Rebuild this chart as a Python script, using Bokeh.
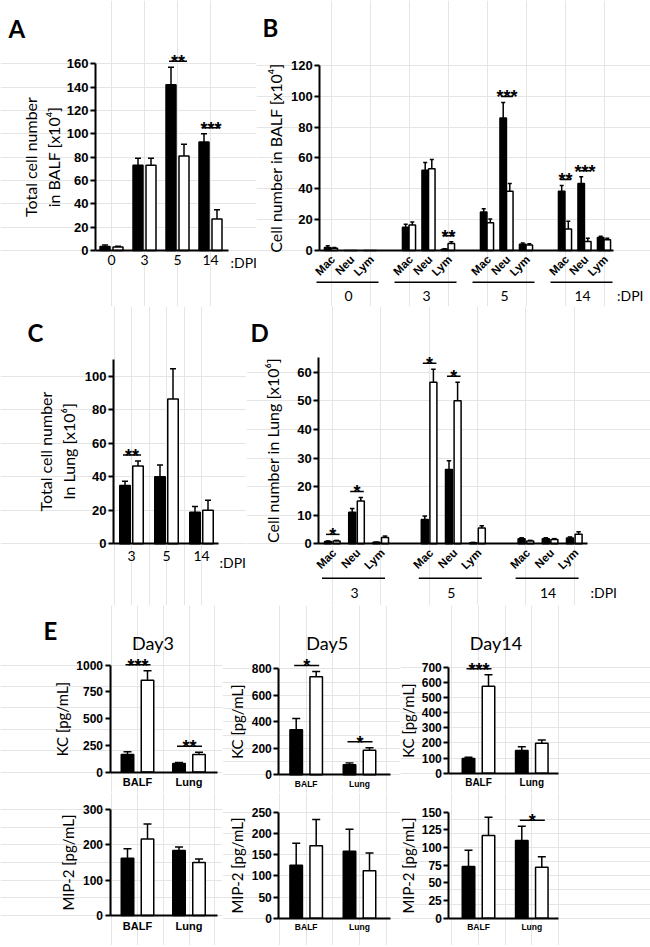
import math
from bokeh.plotting import figure
from bokeh.models import Range1d, LinearAxis, FixedTicker, Whisker, TeeHead, ColumnDataSource
from bokeh.layouts import row, column
from bokeh.core.properties import value
from bokeh.embed import file_html
from bokeh.resources import INLINE

# ---------------- data ----------------
# A: total cell number in BALF [x10^4]
a_days = ["0", "3", "5", "14"]
a_black = [3.5, 73, 142, 93]
a_black_err = [1.2, 6, 15, 7]
a_white = [3, 73, 81, 27]
a_white_err = [0.6, 6, 10, 8]
a_sig = [(2, "**"), (3, "***")]
a_yticks = [0, 20, 40, 60, 80, 100, 120, 140, 160]

# B: cell number in BALF [x10^4] by cell type
cell_types = ["Mac", "Neu", "Lym"]
b_days = ["0", "3", "5", "14"]
b_black = [[2, 0, 0], [15, 52, 0.8], [25, 86, 4], [38.5, 43.5, 8.5]]
b_black_err = [[1, 0, 0], [2, 5, 0.3], [2, 10, 0.8], [3.7, 4.3, 0.7]]
b_white = [[1.5, 0, 0], [16.5, 53, 4.6], [18, 38.5, 3.5], [14, 5.8, 6.9]]
b_white_err = [[0.5, 0, 0], [2, 6, 1], [2.5, 5, 0.8], [5, 2.2, 1.1]]
b_sig = [(1, 2, "**"), (2, 1, "***"), (3, 0, "**"), (3, 1, "***")]
b_yticks = [0, 20, 40, 60, 80, 100, 120]

# C: total cell number in lung [x10^6]
c_days = ["3", "5", "14"]
c_black = [34.8, 40, 18.9]
c_black_err = [2.6, 7, 3.4]
c_white = [46.5, 86.5, 20]
c_white_err = [3, 18, 6]
c_sig = [(0, "**")]
c_yticks = [0, 20, 40, 60, 80, 100]
c_ytop = 110

# D: cell number in lung [x10^6] by cell type
d_days = ["3", "5", "14"]
d_black = [[0.8, 11, 0.5], [8.5, 26, 0.4], [1.8, 1.8, 2.0]]
d_black_err = [[0.2, 1.3, 0.1], [1.2, 3, 0.1], [0.3, 0.3, 0.4]]
d_white = [[1.0, 15, 2.2], [56.5, 50, 5.5], [1.0, 1.5, 3.3]]
d_white_err = [[0.2, 1.2, 0.5], [4.5, 6.5, 0.8], [0.2, 0.3, 0.9]]
d_sig = [(0, 0, "*"), (0, 1, "*"), (1, 0, "*"), (1, 1, "*")]
d_yticks = [0, 10, 20, 30, 40, 50, 60]
d_ytop = 65

# E: cytokines [pg/mL]
e_sites = ["BALF", "Lung"]
e_days = ["Day3", "Day5", "Day14"]
kc_black = [[165, 80], [340, 75], [97, 150]]
kc_black_err = [[25, 8], [85, 15], [8, 25]]
kc_white = [[860, 165], [740, 185], [575, 197]]
kc_white_err = [[90, 20], [40, 20], [75, 22]]
kc_sig = [[(0, "***"), (1, "**")], [(0, "*"), (1, "*")], [(0, "***")]]
kc_yticks = [[0, 250, 500, 750, 1000], [0, 200, 400, 600, 800], [0, 100, 200, 300, 400, 500, 600, 700]]
mip_black = [[162, 184], [125, 158], [73, 110]]
mip_black_err = [[27, 10], [52, 52], [23, 20]]
mip_white = [[217, 150], [171, 112], [117, 72]]
mip_white_err = [[42, 10], [62, 42], [26, 15]]
mip_sig = [[], [], [(1, "*")]]
mip_yticks = [[0, 100, 200, 300], [0, 50, 100, 150, 200, 250], [0, 25, 50, 75, 100, 125, 150]]

TF = "Liberation Sans"
LF = "Lato"


class Panel:
    """A figure whose frame fills the whole canvas; xmap/ymap give page-pixel anchors."""

    def __init__(self, box, xmap, ymap):
        x0, y0, w, h = box
        self.px0, self.sx = xmap
        self.py0, self.sy = ymap
        self.p = figure(width=w, height=h,
                        x_range=Range1d(self.dx(x0), self.dx(x0 + w)),
                        y_range=Range1d(self.dy(y0 + h), self.dy(y0)),
                        min_border=0, toolbar_location=None, tools="",
                        output_backend="svg", x_axis_location=None, y_axis_location=None,
                        outline_line_color=None, background_fill_color="white",
                        border_fill_color="white")

    def dx(self, px):
        return (px - self.px0) / self.sx

    def dy(self, py):
        return (self.py0 - py) / self.sy

    def px(self, x):
        return self.px0 + self.sx * x

    def wx(self, n):
        return n / self.sx

    def wy(self, n):
        return n / self.sy

    def text(self, x, y, s, size, font=LF, bold=False, align="center", baseline="middle", angle=0.0):
        self.p.text(x=[x], y=[y], text=[s], text_font=value(font),
                    text_font_size=value(f"{size}px"),
                    text_font_style="bold" if bold else "normal",
                    text_align=align, text_baseline=baseline, text_color="black", angle=angle)

    def yaxis(self, ticks, axis_px, top, label, tick_size, label_size, standoff):
        ax = LinearAxis(fixed_location=self.dx(axis_px), bounds=(0, top),
                        ticker=FixedTicker(ticks=ticks),
                        axis_line_width=2, axis_line_color="black",
                        major_tick_line_width=2, major_tick_line_color="black",
                        major_tick_out=5, major_tick_in=0, minor_tick_line_color=None,
                        major_label_text_font=TF, major_label_text_font_style="bold",
                        major_label_text_font_size=f"{tick_size}px", major_label_text_color="black",
                        major_label_standoff=2,
                        axis_label=label, axis_label_text_font=LF,
                        axis_label_text_font_style="normal",
                        axis_label_text_font_size=f"{label_size}px",
                        axis_label_text_color="black", axis_label_standoff=standoff)
        self.p.add_layout(ax, "left")

    def xaxis(self, positions, labels, start_px, end_px, size, standoff, font=LF, bold=False):
        ax = LinearAxis(fixed_location=0, bounds=(self.dx(start_px), self.dx(end_px)),
                        ticker=FixedTicker(ticks=positions),
                        major_label_overrides={pos: lab for pos, lab in zip(positions, labels)},
                        axis_line_width=2, axis_line_color="black",
                        major_tick_line_color=None, major_tick_out=0, major_tick_in=0,
                        minor_tick_line_color=None,
                        major_label_text_font=font,
                        major_label_text_font_style="bold" if bold else "normal",
                        major_label_text_font_size=f"{size}px", major_label_text_color="black",
                        major_label_standoff=standoff)
        self.p.add_layout(ax, "below")

    def rotated_labels(self, positions, labels, axis_py, size):
        src = ColumnDataSource(dict(x=[p + self.wx(2) for p in positions],
                                    y=[self.dy(axis_py + 7)] * len(positions), t=labels))
        self.p.text(x="x", y="y", text="t", source=src, angle=math.pi / 4,
                    text_font=value(TF), text_font_style="bold",
                    text_font_size=value(f"{size}px"), text_align="right",
                    text_baseline="middle", text_color="black")

    def bars(self, centers, blk, blk_e, wht, wht_e, bw_px, off_px, cap_px):
        off = self.wx(off_px)
        for sign, vals, errs, col in ((-1, blk, blk_e, "black"), (1, wht, wht_e, "white")):
            xs = [c + sign * off for c in centers]
            src = ColumnDataSource(dict(x=xs, top=vals))
            self.p.vbar(x="x", top="top", bottom=0, width=self.wx(bw_px), source=src,
                        fill_color=col, line_color="black", line_width=1.5)
            keep = [i for i, e in enumerate(errs) if e > 0]
            esrc = ColumnDataSource(dict(x=[xs[i] for i in keep], top=[vals[i] for i in keep],
                                         upper=[vals[i] + errs[i] for i in keep]))
            self.p.add_layout(Whisker(source=esrc, base="x", lower="top", upper="upper",
                                      dimension="height", line_color="black", line_width=1.5,
                                      upper_head=TeeHead(size=cap_px, line_color="black", line_width=1.5),
                                      lower_head=None))

    def sig(self, center, off_px, top, stars, size=18):
        xb = center - self.wx(off_px)
        xw = center + self.wx(off_px)
        y = top + self.wy(6)
        x0, x1 = xb - self.wx(2), xw + self.wx(3)
        self.p.segment(x0=[x0], x1=[x1], y0=[y], y1=[y], line_width=1.5, line_color="black")
        self.text((x0 + x1) / 2, y - self.wy(1), stars, size, font=TF, bold=True, baseline="alphabetic")


def flat(nested):
    return [v for grp in nested for v in grp]


# ---------------- Panel A ----------------
A = Panel((0, 0, 256, 306), (111, 33), (250, 1.1667))
a_x = list(range(len(a_days)))
A.bars(a_x, a_black, a_black_err, a_white, a_white_err, 10, 6.5, 6)
A.yaxis(a_yticks, 95, max(a_yticks), "Total cell number\nin BALF [x10\u2074]", 13, 16, 1)
A.xaxis(a_x, a_days, 95, 228, 14, 4)
for g, stars in a_sig:
    A.sig(a_x[g], 6.5, max(a_black[g] + a_black_err[g], a_white[g] + a_white_err[g]), stars)
A.text(A.dx(230), A.dy(262), ":DPI", 14, align="left")
A.text(A.dx(8), A.dy(28), "A", 24, bold=True, align="left", baseline="alphabetic")

# ---------------- Panel B ----------------
B = Panel((256, 0, 394, 306), (330.5, 19.5), (250, 1.5417))
b_x = [g * 4 + c for g in range(len(b_days)) for c in range(len(cell_types))]
B.bars(b_x, flat(b_black), flat(b_black_err), flat(b_white), flat(b_white_err), 6.5, 3.3, 4)
B.yaxis(b_yticks, 319.3, max(b_yticks), "Cell number in BALF [x10\u2074]", 13, 16, 3)
B.xaxis([], [], 319.3, 613, 11.5, 4)
B.rotated_labels(b_x, cell_types * len(b_days), 250, 11.5)
for g, c, stars in b_sig:
    B.sig(g * 4 + c, 3.3, max(b_black[g][c] + b_black_err[g][c], b_white[g][c] + b_white_err[g][c]), stars)
for g, day in enumerate(b_days):
    cpx = B.px(g * 4 + 1)
    B.p.segment(x0=[B.dx(cpx - 34)], x1=[B.dx(cpx + 28)], y0=[B.dy(281.7)], y1=[B.dy(281.7)],
                line_width=1.5, line_color="black")
    B.text(B.dx(cpx - 2), B.dy(295), day, 14)
B.text(B.dx(616.5), B.dy(295), ":DPI", 14, align="left")
B.text(B.dx(262), B.dy(27), "B", 24, bold=True, align="left", baseline="alphabetic")

# ---------------- Panel C ----------------
C = Panel((0, 306, 246, 299), (131, 35), (543.3, 1.675))
c_x = list(range(len(c_days)))
C.bars(c_x, c_black, c_black_err, c_white, c_white_err, 10.5, 6.5, 6)
C.yaxis(c_yticks, 113, c_ytop, "Total cell number\nIn Lung [x10\u2076]", 13, 16, 4)
C.xaxis(c_x, c_days, 113, 218, 14, 7)
for g, stars in c_sig:
    C.sig(c_x[g], 6.5, max(c_black[g] + c_black_err[g], c_white[g] + c_white_err[g]), stars)
C.text(C.dx(219), C.dy(561.7), ":DPI", 14, align="left")
C.text(C.dx(27), C.dy(332), "C", 24, bold=True, align="left", baseline="alphabetic")

# ---------------- Panel D ----------------
D = Panel((246, 306, 404, 299), (331.8, 24.2), (543.3, 2.86))
d_x = [g * 4 + c for g in range(len(d_days)) for c in range(len(cell_types))]
D.bars(d_x, flat(d_black), flat(d_black_err), flat(d_white), flat(d_white_err), 7, 4.3, 4.5)
D.yaxis(d_yticks, 318.3, d_ytop, "Cell number in Lung [x10\u2076]", 13, 16, 12)
D.xaxis([], [], 318.3, 586.7, 11.5, 4)
D.rotated_labels(d_x, cell_types * len(d_days), 543.3, 11.5)
for g, c, stars in d_sig:
    D.sig(g * 4 + c, 4.3, max(d_black[g][c] + d_black_err[g][c], d_white[g][c] + d_white_err[g][c]), stars)
for g, day in enumerate(d_days):
    cpx = D.px(g * 4 + 1)
    D.p.segment(x0=[D.dx(cpx - 34.5)], x1=[D.dx(cpx + 28.5)], y0=[D.dy(577.7)], y1=[D.dy(577.7)],
                line_width=1.5, line_color="black")
    D.text(D.dx(cpx - 2), D.dy(592.3), day, 14)
D.text(D.dx(590), D.dy(592.3), ":DPI", 14, align="left")
D.text(D.dx(250), D.dy(332), "D", 24, bold=True, align="left", baseline="alphabetic")

# ---------------- Panel E ----------------
e_cols = [
    dict(x=0, w=222, xmap=(137, 51.5), axis=109.5, end=216.5, title=152.5, so=3, ls=(11, 11),
         kc_y=(771.5, 0.10667), mip_y=(915, 0.353)),
    dict(x=222, w=178, xmap=(305.7, 53.3), axis=278.3, end=390, title=326.7, so=2, ls=(8.5, 8.5),
         kc_y=(774.3, 0.1325), mip_y=(917.7, 0.424)),
    dict(x=400, w=250, xmap=(478, 53.3), axis=448.3, end=558.3, title=495.5, so=1, ls=(10, 8.5),
         kc_y=(772.7, 0.1514), mip_y=(917.7, 0.7067)),
]
e_x = list(range(len(e_sites)))
e_columns = []
for k, cfg in enumerate(e_cols):
    top = Panel((cfg["x"], 605, cfg["w"], 187), cfg["xmap"], cfg["kc_y"])
    top.bars(e_x, kc_black[k], kc_black_err[k], kc_white[k], kc_white_err[k], 12.5, 10, 8)
    top.yaxis(kc_yticks[k], cfg["axis"], max(kc_yticks[k]), "KC [pg/mL]", 12, 15, cfg["so"])
    top.xaxis(e_x, e_sites, cfg["axis"], cfg["end"], cfg["ls"][0], 4, font=TF, bold=True)
    for i, stars in kc_sig[k]:
        top.sig(e_x[i], 10, max(kc_black[k][i] + kc_black_err[k][i], kc_white[k][i] + kc_white_err[k][i]), stars)
    top.text(top.dx(cfg["title"]), top.dy(642), e_days[k], 18, baseline="alphabetic")
    if k == 0:
        top.text(top.dx(43), top.dy(630), "E", 24, bold=True, align="left", baseline="alphabetic")

    bot = Panel((cfg["x"], 792, cfg["w"], 153), cfg["xmap"], cfg["mip_y"])
    bot.bars(e_x, mip_black[k], mip_black_err[k], mip_white[k], mip_white_err[k], 12.5, 10, 8)
    bot.yaxis(mip_yticks[k], cfg["axis"], max(mip_yticks[k]), "MIP-2 [pg/mL]", 12, 15, cfg["so"])
    bot.xaxis(e_x, e_sites, cfg["axis"], cfg["end"], cfg["ls"][1], 4, font=TF, bold=True)
    for i, stars in mip_sig[k]:
        bot.sig(e_x[i], 10, max(mip_black[k][i] + mip_black_err[k][i], mip_white[k][i] + mip_white_err[k][i]), stars)
    e_columns.append(column(top.p, bot.p, spacing=0))

layout = column(row(A.p, B.p, spacing=0), row(C.p, D.p, spacing=0), row(*e_columns, spacing=0), spacing=0)

with open("out.html", "w") as f:
    f.write(file_html(layout, INLINE, title="Figure"))
